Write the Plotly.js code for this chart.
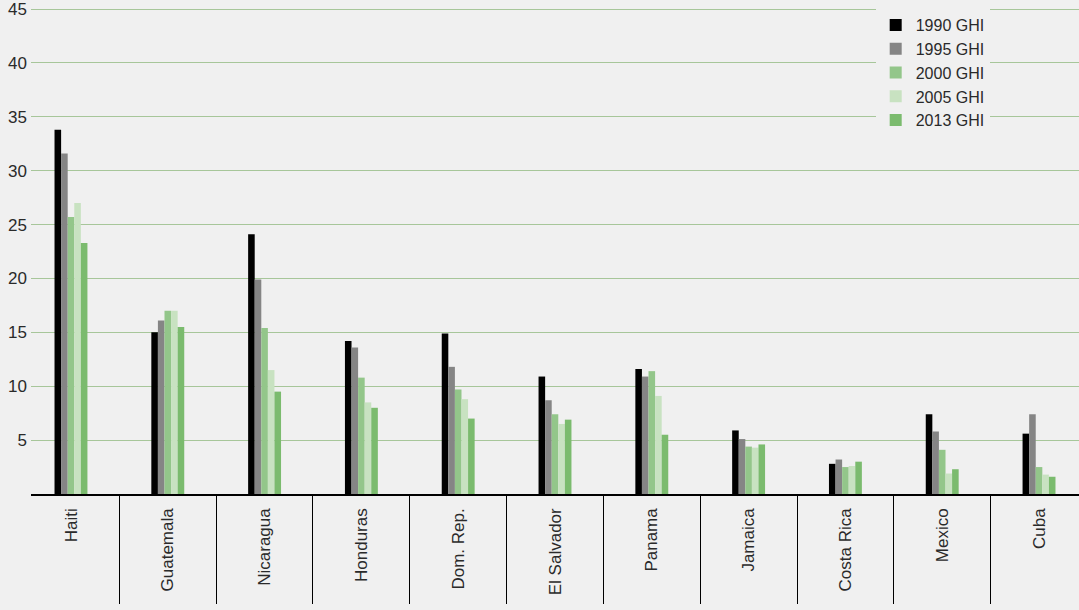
<!DOCTYPE html>
<html>
<head>
<meta charset="utf-8">
<script src="https://cdn.plot.ly/plotly-3.0.1.min.js"></script>
<style>html,body{margin:0;padding:0;background:#f0f0f0;}#chart{width:1079px;height:610px;}</style>
</head>
<body>
<div id="chart"></div>
<script>
const countries = ["Haiti","Guatemala","Nicaragua","Honduras","Dom. Rep.","El Salvador","Panama","Jamaica","Costa Rica","Mexico","Cuba"];
const seriesNames = ["1990 GHI","1995 GHI","2000 GHI","2005 GHI","2013 GHI"];
const ghi1990 = [33.8, 15.0, 24.1, 14.2, 14.9, 10.9, 11.6, 5.9, 2.8, 7.4, 5.6];
const ghi1995 = [31.6, 16.1, 19.9, 13.6, 11.8, 8.7, 10.9, 5.1, 3.2, 5.8, 7.4];
const ghi2000 = [25.7, 17.0, 15.4, 10.8, 9.7, 7.4, 11.4, 4.4, 2.5, 4.1, 2.5];
const ghi2005 = [27.0, 17.0, 11.5, 8.5, 8.8, 6.5, 9.1, 4.3, 2.6, 1.9, 1.8];
const ghi2013 = [23.3, 15.5, 9.5, 8.0, 7.0, 6.9, 5.5, 4.6, 3.0, 2.3, 1.6];
const yTicks = [5,10,15,20,25,30,35,40,45];

const colors = ["#000000","#858585","#93c68a","#c8e2c1","#7bbb6e"];
const values = [ghi1990, ghi1995, ghi2000, ghi2005, ghi2013];

const font = "Liberation Sans, Arial, sans-serif";
const traces = values.map((v,i)=>({
  type:"bar", name: seriesNames[i], x: countries, y: v,
  marker:{color: colors[i], line:{width:0}},
  hoverinfo:"x+y+name"
}));
// separators between categories, drawn as ticks of an overlay axis
const sepTicks = countries.slice(1).map((c,i)=>i+0.5);
traces.push({type:"scatter", x:[0], y:[0], xaxis:"x2", yaxis:"y", mode:"markers",
  marker:{opacity:0}, showlegend:false, hoverinfo:"skip"});

const layout = {
  width:1079, height:610,
  paper_bgcolor:"#f0f0f0", plot_bgcolor:"#f0f0f0",
  margin:{l:31, r:0, t:8, b:116},
  barmode:"group", bargap:0.66, bargroupgap:0,
  font:{family:font, size:17, color:"#2a2a2a"},
  xaxis:{
    type:"category", range:[-0.413, 10.413],
    showline:true, linecolor:"#000", linewidth:1.5,
    showgrid:false, ticks:"", tickangle:-90, ticklabelstandoff:6,
    tickfont:{family:font, size:17, color:"#2a2a2a"}
  },
  xaxis2:{
    type:"linear", overlaying:"x", anchor:"y", side:"bottom", range:[-0.413, 10.413],
    tickvals:sepTicks, showticklabels:false, ticks:"outside", ticklen:109, tickcolor:"#000", tickwidth:1,
    showgrid:false, zeroline:false, showline:false
  },
  yaxis:{
    range:[0,45.1], tickvals:yTicks, ticktext:yTicks.map(String),
    showgrid:true, gridcolor:"#a7c69a", gridwidth:1,
    zeroline:false, showline:false, ticks:"", ticklabelstandoff:3,
    tickfont:{family:font, size:17, color:"#2a2a2a"}
  },
  legend:{
    x:0.806, y:1.0, xanchor:"left", yanchor:"top",
    bgcolor:"#f0f0f0", borderwidth:0,
    font:{family:font, size:16, color:"#2a2a2a"},
    itemclick:false
  },
  showlegend:true
};

Plotly.newPlot("chart", traces, layout, {displayModeBar:false, staticPlot:true});
</script>
</body>
</html>
